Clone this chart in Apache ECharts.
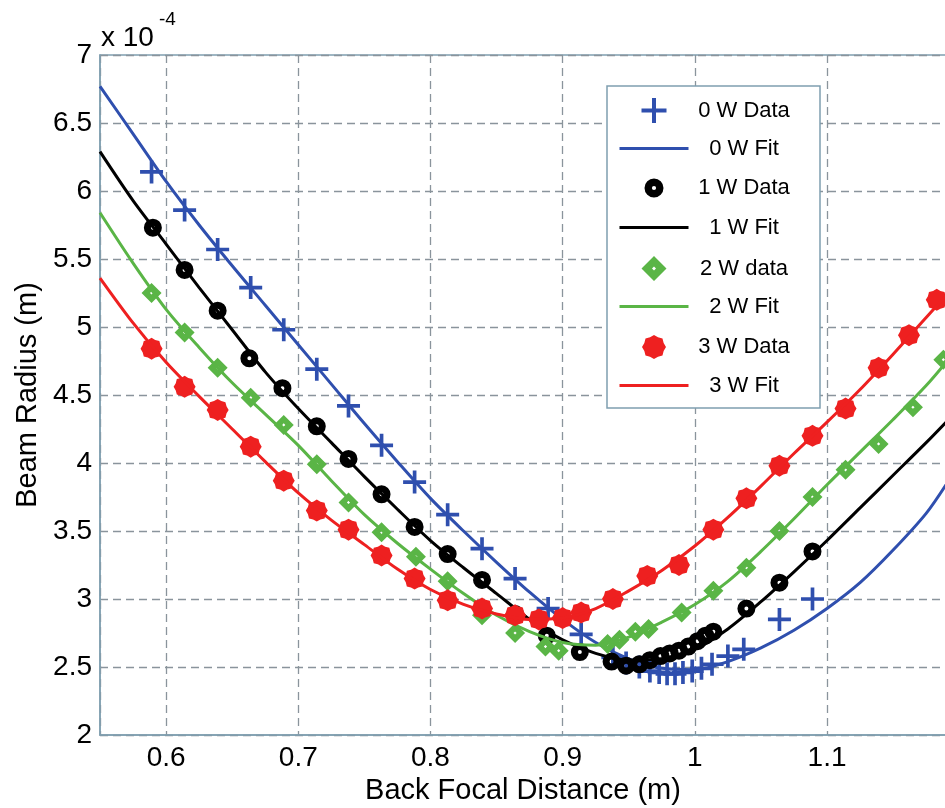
<!DOCTYPE html>
<html>
<head>
<meta charset="utf-8">
<script src="https://cdn.jsdelivr.net/npm/echarts@6/dist/echarts.min.js"></script>
<style>
html,body{margin:0;padding:0;background:#fff;}
#chart{width:945px;height:808px;}
</style>
</head>
<body>
<div id="chart"></div>
<script>
// ---- data (beam radius in units of 1e-4 m) ----
const seriesNames = ['0 W Data','0 W Fit','1 W Data','1 W Fit','2 W data','2 W Fit','3 W Data','3 W Fit'];

const x0Data = [0.589,0.614,0.639,0.664,0.689,0.714,0.738,0.763,0.788,0.813,0.839,0.864,0.889,0.914,0.938,0.948,0.958,0.966,0.973,0.979,0.985,0.991,0.998,1.005,1.013,1.025,1.037,1.064,1.089];
const y0Data = [6.14,5.86,5.57,5.29,4.98,4.69,4.42,4.13,3.86,3.62,3.37,3.15,2.93,2.74,2.57,2.53,2.50,2.47,2.46,2.45,2.45,2.46,2.47,2.49,2.52,2.58,2.63,2.85,3.00];

const x1Data = [0.590,0.614,0.639,0.663,0.688,0.714,0.738,0.763,0.788,0.813,0.839,0.864,0.888,0.913,0.937,0.948,0.958,0.966,0.974,0.981,0.988,0.995,1.002,1.008,1.014,1.039,1.064,1.089];
const y1Data = [5.73,5.42,5.12,4.77,4.55,4.27,4.03,3.77,3.53,3.33,3.14,2.89,2.73,2.61,2.54,2.51,2.52,2.55,2.58,2.60,2.62,2.65,2.69,2.73,2.76,2.93,3.12,3.35];

const x2Data = [0.589,0.614,0.639,0.664,0.689,0.714,0.738,0.763,0.789,0.813,0.839,0.864,0.887,0.897,0.934,0.943,0.955,0.965,0.990,1.014,1.039,1.064,1.089,1.114,1.139,1.165,1.188];
const y2Data = [5.25,4.96,4.70,4.48,4.28,3.99,3.71,3.49,3.31,3.13,2.88,2.75,2.65,2.62,2.67,2.70,2.76,2.78,2.90,3.06,3.23,3.50,3.75,3.95,4.14,4.41,4.76];

const x3Data = [0.589,0.614,0.639,0.664,0.689,0.714,0.738,0.763,0.788,0.813,0.839,0.864,0.882,0.900,0.914,0.938,0.964,0.988,1.014,1.039,1.064,1.089,1.114,1.139,1.162,1.183];
const y3Data = [4.84,4.56,4.39,4.12,3.87,3.65,3.51,3.32,3.15,2.99,2.93,2.88,2.85,2.86,2.90,3.00,3.17,3.25,3.51,3.74,3.98,4.20,4.40,4.70,4.94,5.20];

const xFit = [0.55,0.575,0.60,0.625,0.65,0.675,0.70,0.725,0.75,0.775,0.80,0.825,0.85,0.875,0.90,0.925,0.95,0.975,1.00,1.025,1.05,1.075,1.10,1.125,1.15,1.175,1.19];
const y0Fit = [6.77,6.42,6.07,5.75,5.45,5.16,4.87,4.58,4.29,4.01,3.74,3.50,3.27,3.05,2.85,2.68,2.56,2.49,2.48,2.54,2.64,2.77,2.93,3.12,3.36,3.63,3.84];
const y1Fit = [6.29,5.93,5.61,5.29,4.98,4.67,4.40,4.15,3.90,3.66,3.43,3.23,3.04,2.85,2.70,2.60,2.55,2.56,2.63,2.78,2.98,3.20,3.43,3.67,3.91,4.15,4.30];
const y2Fit = [5.84,5.47,5.13,4.85,4.59,4.36,4.13,3.87,3.62,3.41,3.22,3.04,2.88,2.76,2.68,2.66,2.72,2.83,2.96,3.13,3.35,3.59,3.84,4.08,4.32,4.57,4.74];
const y3Fit = [5.36,5.03,4.74,4.49,4.25,4.01,3.78,3.58,3.40,3.22,3.07,2.96,2.89,2.85,2.86,2.93,3.06,3.21,3.39,3.60,3.83,4.07,4.30,4.54,4.80,5.07,5.23];

const yTicks = [2,2.5,3,3.5,4,4.5,5,5.5,6,6.5,7];
const xTickLabels = ['0.6','0.7','0.8','0.9','1','1.1'];

// ---- styles ----
const BLUE = '#2f4fae', BLACK = '#000000', GREEN = '#5ab546', RED = '#ee2020';
const FONT = '"Liberation Sans", Arial, Helvetica, sans-serif';
const AXIS_COL = '#7f9fb0';
const GRID_COL = '#8a949c';

const crossPath = 'path://M42,0L58,0L58,42L100,42L100,58L58,58L58,100L42,100L42,58L0,58L0,42L42,42Z';
const blobPath = 'path://M100,50L90.19,66.65L85.36,85.36L66.65,90.19L50,100L33.35,90.19L14.64,85.36L9.81,66.65L0,50L9.81,33.35L14.64,14.64L33.35,9.81L50,0L66.65,9.81L85.36,14.64L90.19,33.35Z';
const ringPath = 'path://M50,0A50,50,0,1,1,50,100A50,50,0,1,1,50,0ZM50,39A11,11,0,1,0,50,61A11,11,0,1,0,50,39Z';
const diamondRingPath = 'path://M50,0L100,50L50,100L0,50ZM50,42L42,50L50,58L58,50Z';

function zip(xs, ys){ return xs.map((x,i)=>[x, ys[i]]); }

const chart = echarts.init(document.getElementById('chart'), null, {renderer:'canvas'});

const scatterDefs = [
  {name: seriesNames[0], data: zip(x0Data,y0Data), symbol: crossPath, symbolSize: 23, color: BLUE},
  {name: seriesNames[2], data: zip(x1Data,y1Data), symbol: ringPath, symbolSize: 18, color: BLACK},
  {name: seriesNames[4], data: zip(x2Data,y2Data), symbol: diamondRingPath, symbolSize: 20, color: GREEN},
  {name: seriesNames[6], data: zip(x3Data,y3Data), symbol: blobPath, symbolSize: 22, color: RED}
];
const fitDefs = [
  {name: seriesNames[1], data: zip(xFit,y0Fit), color: BLUE},
  {name: seriesNames[3], data: zip(xFit,y1Fit), color: BLACK},
  {name: seriesNames[5], data: zip(xFit,y2Fit), color: GREEN},
  {name: seriesNames[7], data: zip(xFit,y3Fit), color: RED}
];

const series = [];
for (let i = 0; i < 4; i++) {
  const s = scatterDefs[i];
  series.push({type:'scatter', name:s.name, data:s.data, symbol:s.symbol, symbolSize:s.symbolSize,
    itemStyle:{color:s.color, opacity:1}, z: 2 + i*2, silent:true});
  const f = fitDefs[i];
  series.push({type:'line', name:f.name, data:f.data, smooth:0.3, symbol:'none', showSymbol:false,
    lineStyle:{color:f.color, width:3}, itemStyle:{color:f.color}, z: 3 + i*2, silent:true});
}

// legend: one legend component per row so each icon can have its own size
const rowCenter0 = 111, rowStep = 39.5, iconCenterX = 654, textCenterX = 744;
const legendIcon = [
  {w:25, h:25, icon:crossPath, color:BLUE},
  {w:69, h:3, icon:'rect', color:BLUE},
  {w:19, h:19, icon:ringPath, color:BLACK},
  {w:69, h:3, icon:'rect', color:BLACK},
  {w:25, h:25, icon:diamondRingPath, color:GREEN},
  {w:69, h:3, icon:'rect', color:GREEN},
  {w:24, h:24, icon:blobPath, color:RED},
  {w:69, h:3, icon:'rect', color:RED}
];
const legends = seriesNames.map((name, i) => {
  const ic = legendIcon[i];
  const left = iconCenterX - ic.w / 2;
  const textStart = left + ic.w + 5;
  const textWidth = 2 * (textCenterX - textStart);
  return {
    show:true, orient:'vertical', left:left, top: rowCenter0 + i*rowStep - 13,
    padding:0, itemGap:0, itemWidth:ic.w, itemHeight:ic.h, selectedMode:false,
    data:[{name:name, icon:ic.icon}], z:6,
    itemStyle:{color:ic.color, borderWidth:0, opacity:1},
    formatter: '{t|{name}}',
    textStyle:{ rich:{ t:{ fontFamily:FONT, fontSize:22, color:'#000', lineHeight:26, width:textWidth, align:'center' } } }
  };
});

const option = {
  animation:false,
  backgroundColor:'#ffffff',
  grid:{left:100, top:55, width:846, height:680, show:true, borderColor:AXIS_COL, borderWidth:1.5, backgroundColor:'transparent', outerBoundsMode:'none'},
  xAxis:{
    type:'value', min:0.55, max:1.19, splitNumber:6,
    name:'Back Focal Distance (m)', nameLocation:'middle', nameGap:38,
    nameTextStyle:{fontFamily:FONT, fontSize:29, color:'#000'},
    axisLine:{show:true, lineStyle:{color:AXIS_COL, width:1.5}},
    axisTick:{show:false},
    axisLabel:{fontFamily:FONT, fontSize:28, color:'#000', margin:9, showMinLabel:false, showMaxLabel:false,
      formatter: v => { const s = String(Math.round(v*10)/10); return xTickLabels.indexOf(s) >= 0 ? s : ''; } },
    splitLine:{show:true, lineStyle:{color:GRID_COL, type:[8,5], width:1.3}}
  },
  yAxis:{
    type:'value', min:yTicks[0], max:yTicks[yTicks.length-1], interval:0.5,
    name:'Beam Radius (m)', nameLocation:'middle', nameGap:58, nameRotate:90,
    nameTextStyle:{fontFamily:FONT, fontSize:29, color:'#000'},
    axisLine:{show:true, lineStyle:{color:AXIS_COL, width:1.5}},
    axisTick:{show:false},
    axisLabel:{fontFamily:FONT, fontSize:28, color:'#000', margin:8},
    splitLine:{show:true, lineStyle:{color:GRID_COL, type:[8,5], width:1.3}}
  },
  legend: legends,
  graphic:[
    {type:'rect', z:5, shape:{x:607, y:86, width:213, height:322}, style:{fill:'#ffffff', stroke:AXIS_COL, lineWidth:1.5}},
    {type:'text', z:5, left:101, top:24, style:{text:'x 10', font:'28px ' + FONT, fill:'#000'}},
    {type:'text', z:5, left:159, top:10, style:{text:'-4', font:'19px ' + FONT, fill:'#000'}}
  ],
  series: series
};
chart.setOption(option);
</script>
</body>
</html>
